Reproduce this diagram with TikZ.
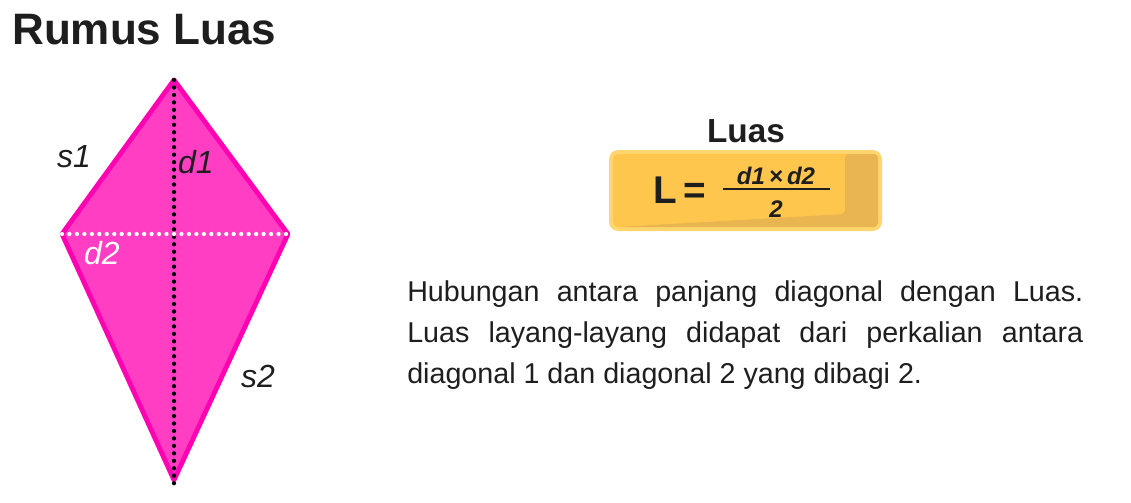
\documentclass[tikz,border=0pt]{standalone}
\usepackage{fontspec}
\setmainfont{Liberation Sans}
\usepackage{tikz}
\definecolor{kitefill}{RGB}{255,62,196}
\definecolor{kiteline}{RGB}{255,0,178}
\definecolor{boxfill}{RGB}{255,198,78}
\definecolor{boxline}{RGB}{255,214,110}
\definecolor{boxshade}{RGB}{233,181,80}
\definecolor{ink}{RGB}{30,30,30}

\begin{document}
\begin{tikzpicture}[x=0.75pt, y=-0.75pt,
    lbl/.style={font=\fontsize{24}{28}\selectfont\itshape, inner sep=0pt},
    dotline/.style={line width=3.2pt, line cap=round, dash pattern=on 0pt off 5.6pt}]
                \useasboundingbox (0,0) rectangle (1131,503);
                
                % Title
                \node[anchor=base west, inner sep=0pt, text=ink] (title) at (12,45)
                    {\fontsize{33}{38}\selectfont\bfseries Rumus Luas};
                
                % Kite corners
                \coordinate (top) at (174,80);
                \coordinate (left) at (62,234);
                \coordinate (right) at (288,234);
                \coordinate (bottom) at (174,480);
                
                % Kite
                \filldraw[fill=kitefill, draw=kiteline, line width=3.6pt, line join=round]
                    (top) -- (right) -- (bottom) -- (left) -- cycle;
                
                % Diagonals
                \coordinate (d1end) at (174,486);
                \draw[dotline, black] (top) -- (d1end);
                \draw[dotline, white] (left) -- (right);
                
                % Side and diagonal labels
                \node[lbl, text=ink] (s1) at (74,157) {s1};
                \node[lbl, text=ink] (d1) at (196,162) {d1};
                \node[lbl, text=white] (d2) at (102,253) {d2};
                \node[lbl, text=ink] (s2) at (258,376) {s2};
                
                % Formula box
                \fill[boxline, rounded corners=7] (609,150) rectangle (882,231);
                \fill[boxfill, rounded corners=4] (613,154) rectangle (878,227);
                \fill[boxshade, rounded corners=3] (845,154) -- (878,154) -- (878,227)
                    -- (618,227) -- (845,214) -- cycle;
                
                % Formula
                \node[anchor=base, inner sep=0pt, text=ink] (luas) at (746,142)
                    {\fontsize{25}{30}\selectfont\bfseries Luas};
                \node[anchor=base, inner sep=0pt, text=ink] (L) at (680,203)
                    {\fontsize{29}{32}\selectfont\bfseries L\,=};
                \node[anchor=base, inner sep=0pt, text=ink] (num) at (776,184)
                    {\fontsize{18}{20}\selectfont\bfseries\itshape d1\,×\,d2};
                \node[anchor=base, inner sep=0pt, text=ink] (den) at (776,217)
                    {\fontsize{18}{20}\selectfont\bfseries\itshape 2};
                \draw[ink, line width=2pt] (723,189) -- (830,189);
                
                % Description
                \node[anchor=north west, inner sep=0pt, text width=507pt, align=justify, text=ink,
                    font=\fontsize{21.5}{30.75}\selectfont] (desc) at (407,280)
                    {Hubungan antara panjang diagonal dengan Luas.\linebreak
                    Luas layang-layang didapat dari perkalian antara\linebreak
                    diagonal 1 dan diagonal 2 yang dibagi 2.};
            \end{tikzpicture}
\end{document}
